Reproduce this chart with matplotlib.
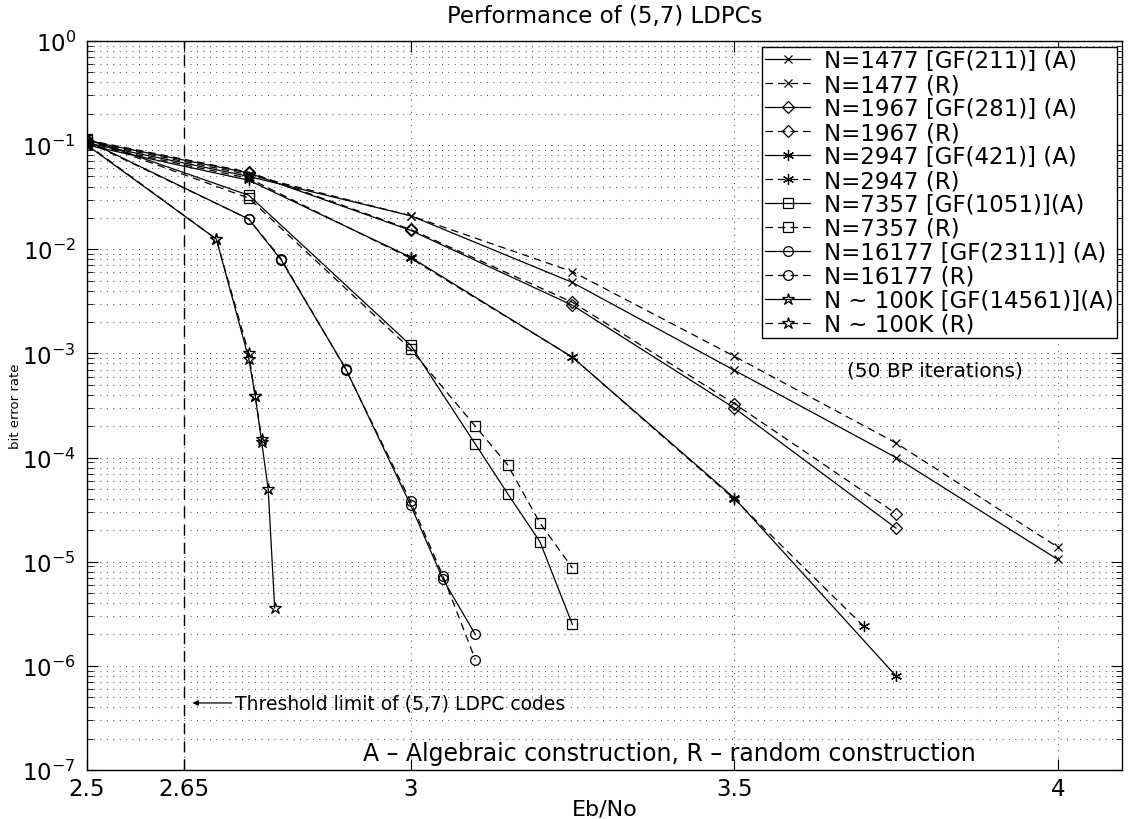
import matplotlib
matplotlib.use("Agg")
import matplotlib.pyplot as plt
from matplotlib.ticker import LogLocator, NullFormatter, FixedLocator

plt.rcParams['font.family'] = ['DejaVu Sans']

# Eb/No points and bit error rates per code, (A) algebraic / (R) random
ebno_1477 = [2.5, 2.75, 3.0, 3.25, 3.5, 3.75, 4.0]
ber_1477_a = [0.105, 0.050, 0.021, 4.8e-3, 6.9e-4, 1.0e-4, 1.05e-5]
ber_1477_r = [0.108, 0.052, 0.021, 6.1e-3, 9.4e-4, 1.38e-4, 1.38e-5]

ebno_1967 = [2.5, 2.75, 3.0, 3.25, 3.5, 3.75]
ber_1967_a = [0.11, 0.054, 0.0152, 2.9e-3, 3.0e-4, 2.1e-5]
ber_1967_r = [0.112, 0.055, 0.0155, 3.1e-3, 3.3e-4, 2.9e-5]

ebno_2947_a = [2.5, 2.75, 3.0, 3.25, 3.5, 3.75]
ber_2947_a = [0.1, 0.046, 0.0084, 9.2e-4, 4.1e-5, 8.0e-7]
ebno_2947_r = [2.5, 2.75, 3.0, 3.25, 3.5, 3.7]
ber_2947_r = [0.102, 0.048, 0.0082, 9.2e-4, 4.0e-5, 2.4e-6]

ebno_7357 = [2.5, 2.75, 3.0, 3.1, 3.15, 3.2, 3.25]
ber_7357_a = [0.115, 0.033, 1.2e-3, 1.35e-4, 4.5e-5, 1.55e-5, 2.5e-6]
ber_7357_r = [0.113, 0.031, 1.1e-3, 2.0e-4, 8.5e-5, 2.35e-5, 8.7e-6]

ebno_16177 = [2.5, 2.75, 2.8, 2.9, 3.0, 3.05, 3.1]
ber_16177_a = [0.11, 0.0195, 0.0079, 7.1e-4, 3.5e-5, 6.8e-6, 2.0e-6]
ber_16177_r = [0.108, 0.0195, 0.0081, 7.0e-4, 3.8e-5, 7.3e-6, 1.15e-6]

ebno_100k_a = [2.5, 2.7, 2.75, 2.76, 2.77, 2.78, 2.79]
ber_100k_a = [0.1, 0.0125, 8.9e-4, 3.9e-4, 1.4e-4, 5.0e-5, 3.6e-6]
ebno_100k_r = [2.5, 2.7, 2.75, 2.76, 2.77]
ber_100k_r = [0.102, 0.0125, 1.0e-3, 3.9e-4, 1.5e-4]

x_ticks = [2.5, 2.65, 3, 3.5, 4]
x_ticklabels = ['2.5', '2.65', '3', '3.5', '4']
y_decades = [1e-7, 1e-6, 1e-5, 1e-4, 1e-3, 1e-2, 1e-1, 1e0]
threshold = 2.65

fig = plt.figure(figsize=(11.28, 8.2), dpi=100)
ax = fig.add_axes([0.0771, 0.0598, 0.918, 0.889])

solid = dict(color='black', linewidth=0.9, linestyle='-')
dashed = dict(color='black', linewidth=0.9, linestyle=(0, (6, 4)))
open_mk = dict(markerfacecolor='none', markeredgecolor='black', markeredgewidth=0.9)

curves = [
    (ebno_1477, ber_1477_a, 'x', 5.5, solid, 'N=1477 [GF(211)] (A)'),
    (ebno_1477, ber_1477_r, 'x', 5.5, dashed, 'N=1477 (R)'),
    (ebno_1967, ber_1967_a, 'D', 6.5, solid, 'N=1967 [GF(281)] (A)'),
    (ebno_1967, ber_1967_r, 'D', 6.5, dashed, 'N=1967 (R)'),
    (ebno_2947_a, ber_2947_a, (6, 2, 0), 8, solid, 'N=2947 [GF(421)] (A)'),
    (ebno_2947_r, ber_2947_r, (6, 2, 0), 8, dashed, 'N=2947 (R)'),
    (ebno_7357, ber_7357_a, 's', 6.5, solid, 'N=7357 [GF(1051)](A)'),
    (ebno_7357, ber_7357_r, 's', 6.5, dashed, 'N=7357 (R)'),
    (ebno_16177, ber_16177_a, 'o', 7, solid, 'N=16177 [GF(2311)] (A)'),
    (ebno_16177, ber_16177_r, 'o', 7, dashed, 'N=16177 (R)'),
    (ebno_100k_a, ber_100k_a, '*', 9, solid, 'N ~ 100K [GF(14561)](A)'),
    (ebno_100k_r, ber_100k_r, '*', 9, dashed, 'N ~ 100K (R)'),
]
for xs, ys, mk, ms, style, lab in curves:
    ax.semilogy(xs, ys, marker=mk, markersize=ms, label=lab, **style, **open_mk)

# threshold of the (5,7) ensemble
ax.axvline(threshold, color='black', linewidth=1.0, linestyle=(0, (8, 5)))

ax.set_xlim(2.5, 4.1)
ax.set_ylim(1e-7, 1)
ax.set_xticks(x_ticks)
ax.set_xticklabels(x_ticklabels)
ax.yaxis.set_major_locator(FixedLocator(y_decades))
ax.yaxis.set_minor_locator(LogLocator(base=10, subs=range(2, 10), numticks=100))
ax.yaxis.set_minor_formatter(NullFormatter())

grid_style = dict(color='0.25', linewidth=0.8, linestyle=(0, (0.8, 5)))
ax.yaxis.grid(True, which='both', **grid_style)
ax.xaxis.grid(True, which='major', **grid_style)
ax.set_axisbelow(True)

ax.tick_params(which='both', direction='in', top=True, right=True, labelsize=16.5)
ax.tick_params(which='major', length=8, pad=5)
ax.tick_params(axis='y', which='major', pad=8)
ax.tick_params(which='minor', length=4)
for sp in ax.spines.values():
    sp.set_linewidth(1.0)

ax.set_title('Performance of (5,7) LDPCs', fontsize=16.5, pad=14)
ax.set_xlabel('Eb/No', fontsize=16, labelpad=-1)
ax.set_ylabel('bit error rate', fontsize=9.5, labelpad=0)

ax.text(3.675, 7e-4, '(50 BP iterations)', fontsize=14.5, va='center')
ax.text(2.927, 1.45e-7, 'A \u2013 Algebraic construction, R \u2013 random construction',
        fontsize=17, va='center')
ax.annotate('Threshold limit of (5,7) LDPC codes', xy=(2.663, 4.4e-7),
            xytext=(2.728, 4.4e-7), fontsize=13.5, va='center',
            arrowprops=dict(arrowstyle='-|>', color='black', lw=0.9,
                            shrinkA=0, shrinkB=0, mutation_scale=8))

leg = ax.legend(loc='upper right', fontsize=16.5, handlelength=2.0,
                labelspacing=0.04, borderpad=0.12, borderaxespad=0.25,
                handletextpad=0.6, fancybox=False, framealpha=1,
                edgecolor='black', numpoints=1)
leg.get_frame().set_linewidth(1.0)

fig.savefig('out.png', dpi=100)
